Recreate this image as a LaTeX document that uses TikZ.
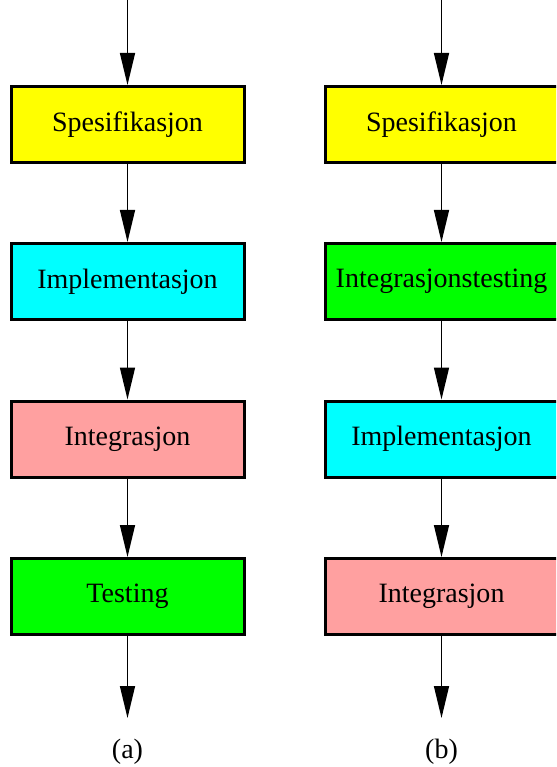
\documentclass[tikz,border=0pt]{standalone}
\usepackage{fontspec}
\setmainfont{Liberation Serif}
\usetikzlibrary{arrows.meta}

\definecolor{boxyellow}{RGB}{255,255,0}
\definecolor{boxcyan}{RGB}{0,255,255}
\definecolor{boxpink}{RGB}{255,160,160}
\definecolor{boxgreen}{RGB}{0,255,0}

\tikzset{
    phase/.style={draw, line width=3pt, minimum width=233pt, minimum height=76pt,
        inner sep=0pt, font=\fontsize{28}{30}\selectfont},
    flow/.style={line width=1.5pt, -{Triangle[length=32pt, width=15pt]}},
}

\begin{document}
\begin{tikzpicture}[x=1pt, y=-1pt]
            \useasboundingbox (0, 0) rectangle (556, 767);
            \clip (0, 0) rectangle (556, 767);
            % (a)
            \coordinate (ain) at (127.5, 0);
            \node[phase, fill=boxyellow] (aspes) at (127.5, 124.5) {Spesifikasjon};
            \node[phase, fill=boxcyan] (aimpl) at (127.5, 281.5) {Implementasjon};
            \node[phase, fill=boxpink] (aintg) at (127.5, 439) {Integrasjon};
            \node[phase, fill=boxgreen] (atest) at (127.5, 596.5) {Testing};
            \coordinate (aout) at (127.5, 718);
            \draw[flow] (ain) -- (aspes);
            \draw[flow] (aspes) -- (aimpl);
            \draw[flow] (aimpl) -- (aintg);
            \draw[flow] (aintg) -- (atest);
            \draw[flow] (atest) -- (aout);
            \node[font=\fontsize{28}{30}\selectfont] (alabel) at (127.5, 752) {(a)};
            % (b)
            \coordinate (bin) at (441.5, 0);
            \node[phase, fill=boxyellow] (bspes) at (441.5, 124.5) {Spesifikasjon};
            \node[phase, fill=boxgreen] (btest) at (441.5, 281.5) {Integrasjonstesting};
            \node[phase, fill=boxcyan] (bimpl) at (441.5, 439) {Implementasjon};
            \node[phase, fill=boxpink] (bintg) at (441.5, 596.5) {Integrasjon};
            \coordinate (bout) at (441.5, 718);
            \draw[flow] (bin) -- (bspes);
            \draw[flow] (bspes) -- (btest);
            \draw[flow] (btest) -- (bimpl);
            \draw[flow] (bimpl) -- (bintg);
            \draw[flow] (bintg) -- (bout);
            \node[font=\fontsize{28}{30}\selectfont] (blabel) at (441.5, 752) {(b)};
        \end{tikzpicture}
\end{document}
